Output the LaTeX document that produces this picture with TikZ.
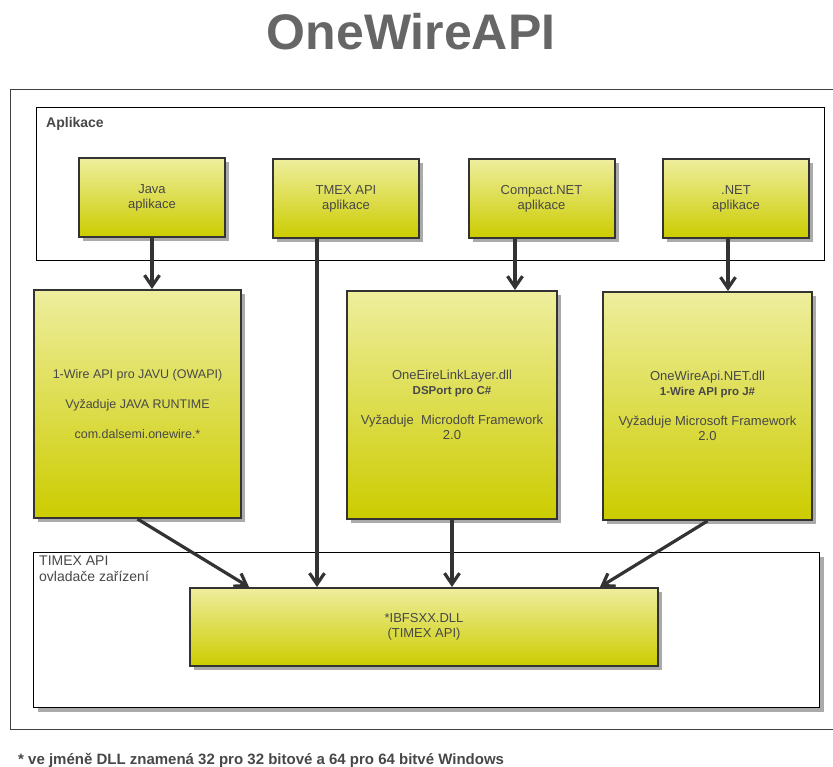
\documentclass[tikz,border=0pt]{standalone}
\usepackage{fontspec}
\setmainfont{Liberation Sans}
\usetikzlibrary{shadows, arrows.meta}
\definecolor{boxtop}{HTML}{EEEE9E}
\definecolor{boxbottom}{HTML}{CCCC00}
\definecolor{edge}{HTML}{333333}
\definecolor{txt}{HTML}{484848}
\definecolor{shade}{HTML}{AAAAAA}

\begin{document}
\begin{tikzpicture}[x = 1pt, y = -1pt,
    box/.style = {draw = edge, line width = 2pt, top color = boxtop, bottom color = boxbottom,
      drop shadow = {shadow xshift = 4pt, shadow yshift = -4pt, fill = shade, opacity = 1},
      align = center, text = txt, font = \fontsize{13}{15}\selectfont, inner sep = 0pt},
    small/.style = {box, minimum width = 146pt, minimum height = 79pt},
    big/.style = {box, minimum width = 208pt, minimum height = 228pt},
    frame/.style = {draw, line width = 1pt, fill = white, inner sep = 0pt, anchor = north west},
    lbl/.style = {text = txt, align = left, inner sep = 0pt},
    link/.style = {draw = edge, line width = 3.2pt, -{Straight Barb[length = 11pt, width = 15pt]}}]
 \useasboundingbox (0,0) rectangle (833,767);
 \path node[font = \bfseries\fontsize{50}{56}\selectfont, text = black!60] (title) at (411,32) {OneWireAPI};
 \draw[line width = 0.8pt, draw = black!75] (10,89) rectangle (845,729);

 \path node[frame, minimum width = 788pt, minimum height = 153pt] (apps) at (36,107) {}
 node[frame, minimum width = 786pt, minimum height = 155pt,
   drop shadow = {shadow xshift = 4pt, shadow yshift = -4pt, fill = shade, opacity = 1}] (drivers) at (33,552) {};

 \path node[lbl, anchor = west, font = \bfseries\fontsize{14}{16}\selectfont] (applabel) at (46,124) {Aplikace}
 node[lbl, anchor = north west, font = \fontsize{14}{16}\selectfont] (drvlabel) at (39,556) {TIMEX API\\ovladače zařízení};

 \path node[small] (java) at (152,197.5) {Java\\aplikace}
 node[small] (tmexapp) at (346,198.5) {TMEX API\\aplikace}
 node[small] (compact) at (541.5,198.5) {Compact.NET\\aplikace}
 node[small] (dotnet) at (736,198.5) {.NET\\aplikace};

 \path node[big, minimum width = 207pt, font = \fontsize{12.5}{15}\selectfont] (owapi) at (137.5,404)
   {1-Wire API pro JAVU (OWAPI)\\ \\Vyžaduje JAVA RUNTIME\\ \\com.dalsemi.onewire.*}
 node[big, minimum width = 210pt] (linklayer) at (452,405)
   {OneEireLinkLayer.dll\\{\bfseries\fontsize{11.5}{15}\selectfont DSPort pro C\#}\\ \\Vyžaduje\ \ Microdoft Framework\\2.0}
 node[big, minimum width = 209pt] (apinet) at (707.5,406)
   {OneWireApi.NET.dll\\{\bfseries\fontsize{11.5}{15}\selectfont 1-Wire API pro J\#}\\ \\Vyžaduje Microsoft Framework\\2.0};

 \path node[box, minimum width = 468pt, minimum height = 78pt] (ibfs) at (424,627) {*IBFSXX.DLL\\(TIMEX API)};

 \path node[lbl, anchor = west, font = \bfseries\fontsize{15}{17}\selectfont, text = black!72] (note) at (18,760)
   {* ve jméně DLL znamená 32 pro 32 bitové a 64 pro 64 bitvé Windows};

 \draw[link] (java.south) -- (java.south |- owapi.north);
 \draw[link] ([xshift = -29pt]tmexapp.south) -- ([xshift = -29pt]tmexapp.south |- ibfs.north);
 \draw[link] ([xshift = -26.5pt]compact.south) -- ([xshift = -26.5pt]compact.south |- linklayer.north);
 \draw[link] ([xshift = -8pt]dotnet.south) -- ([xshift = -8pt]dotnet.south |- apinet.north);
 \draw[link] (owapi.south) -- ([xshift = 60pt]ibfs.north west);
 \draw[link] (linklayer.south) -- (linklayer.south |- ibfs.north);
 \draw[link] (apinet.south) -- ([xshift = -59pt]ibfs.north east);
\end{tikzpicture}
\end{document}
